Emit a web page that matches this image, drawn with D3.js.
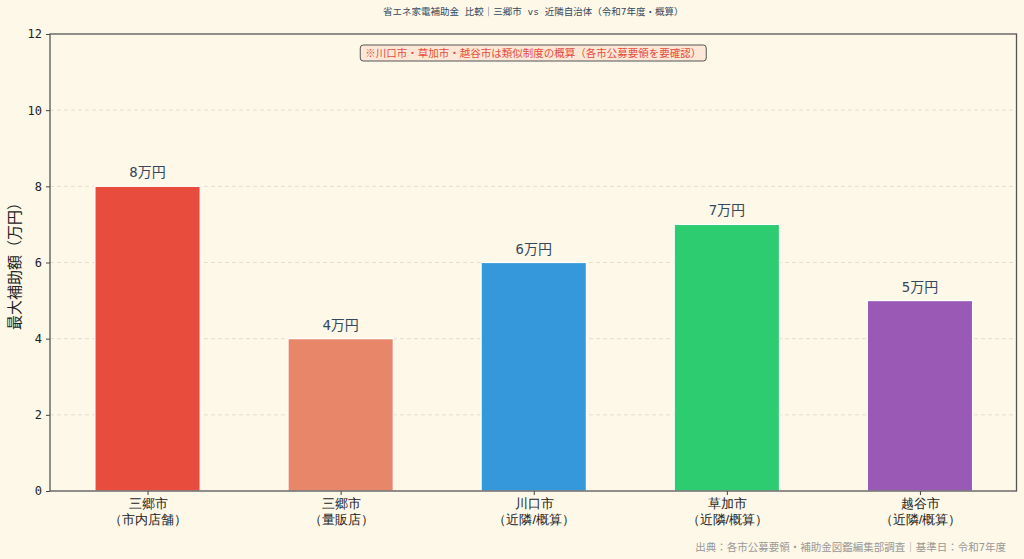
<!DOCTYPE html>
<html>
<head>
<meta charset="utf-8">
<script src="https://cdn.jsdelivr.net/npm/d3@7"></script>
<style>
  body { margin: 0; background: #fdf8e8; }
  svg { display: block; }
</style>
</head>
<body>
<script>
// chart data
const categories = ["三郷市\n（市内店舗）", "三郷市\n（量販店）", "川口市\n（近隣/概算）", "草加市\n（近隣/概算）", "越谷市\n（近隣/概算）"];
const values = [8, 4, 6, 7, 5];
const barColors = ["#e74c3c", "#e8866a", "#3498db", "#2ecc71", "#9b59b6"];
const yTicks = [0, 2, 4, 6, 8, 10, 12];
const title = "省エネ家電補助金 比較｜三郷市 vs 近隣自治体（令和7年度・概算）";
const note = "※川口市・草加市・越谷市は類似制度の概算（各市公募要領を要確認）";
const source = "出典：各市公募要領・補助金図鑑編集部調査｜基準日：令和7年度";

const width = 1024, height = 559;
const margin = {top: 34, right: 7.5, bottom: 68, left: 50};
const font = "'DejaVu Sans Mono', 'Noto Sans CJK JP', sans-serif";

const svg = d3.select("body").append("svg")
    .attr("width", width)
    .attr("height", height)
    .attr("font-family", font);

svg.append("rect").attr("width", width).attr("height", height).attr("fill", "#fdf8e8");

// x is the category index, y the subsidy in 万円
const x = d3.scaleLinear([-0.5, categories.length - 0.5], [margin.left + 1, width - margin.right]);
const y = d3.scaleLinear([0, 12], [height - margin.bottom, margin.top]);
const barWidth = 0.545;

// grid
svg.append("g")
    .selectAll("line")
    .data(yTicks.filter(d => d > 0 && d < 12))
    .join("line")
    .attr("x1", margin.left)
    .attr("x2", width - margin.right)
    .attr("y1", d => y(d))
    .attr("y2", d => y(d))
    .attr("stroke", "#d9d9cc")
    .attr("stroke-width", 0.8)
    .attr("stroke-dasharray", "4,3");

// bars
svg.append("g")
    .selectAll("rect")
    .data(values)
    .join("rect")
    .attr("x", (d, i) => x(i - barWidth / 2))
    .attr("width", (d, i) => x(i + barWidth / 2) - x(i - barWidth / 2))
    .attr("y", d => y(d))
    .attr("height", d => y(0) - y(d))
    .attr("fill", (d, i) => barColors[i])
    .attr("stroke", "#ffffff")
    .attr("stroke-width", 1.2);

// value labels
svg.append("g")
    .selectAll("text")
    .data(values)
    .join("text")
    .attr("x", (d, i) => x(i))
    .attr("y", d => y(d) - 9)
    .attr("text-anchor", "middle")
    .attr("font-size", 14)
    .attr("fill", "#34495e")
    .text(d => d + "万円");

// y axis
const yAxis = svg.append("g")
    .attr("transform", `translate(${margin.left},0)`)
    .call(d3.axisLeft(y).tickValues(yTicks).tickSize(4).tickPadding(4))
    .attr("font-family", font)
    .attr("font-size", 12);
yAxis.select(".domain").remove();
yAxis.selectAll(".tick line").attr("stroke", "#444");
yAxis.selectAll(".tick text").attr("fill", "#222");

// x axis
const xAxis = svg.append("g")
    .attr("transform", `translate(0,${height - margin.bottom})`)
    .call(d3.axisBottom(x).tickValues(d3.range(categories.length)).tickSize(4).tickFormat(""));
xAxis.select(".domain").remove();
xAxis.selectAll(".tick line").attr("stroke", "#444");
xAxis.selectAll(".tick").each(function(d) {
  const lines = categories[d].split("\n");
  d3.select(this).append("text")
      .attr("fill", "#222")
      .attr("font-size", 13)
      .attr("text-anchor", "middle")
      .selectAll("tspan")
      .data(lines)
      .join("tspan")
      .attr("x", 0)
      .attr("y", (l, j) => 17 + j * 16)
      .text(l => l);
});

// frame
svg.append("rect")
    .attr("x", margin.left)
    .attr("y", margin.top)
    .attr("width", width - margin.left - margin.right)
    .attr("height", height - margin.top - margin.bottom)
    .attr("fill", "none")
    .attr("stroke", "#555")
    .attr("stroke-width", 1.3);

// y label
svg.append("text")
    .attr("transform", `translate(20,${(margin.top + height - margin.bottom) / 2}) rotate(-90)`)
    .attr("text-anchor", "middle")
    .attr("font-size", 15)
    .attr("fill", "#222")
    .text("最大補助額（万円）");

// title
svg.append("text")
    .attr("x", (margin.left + width - margin.right) / 2)
    .attr("y", 15)
    .attr("text-anchor", "middle")
    .attr("font-size", 9.5)
    .attr("fill", "#34495e")
    .text(title);

// note box
const noteG = svg.append("g");
const noteText = noteG.append("text")
    .attr("x", (margin.left + width - margin.right) / 2)
    .attr("y", 57)
    .attr("text-anchor", "middle")
    .attr("font-size", 10.5)
    .attr("fill", "#e74c3c")
    .text(note);
const bb = noteText.node().getBBox();
noteG.insert("rect", "text")
    .attr("x", bb.x - 5)
    .attr("y", bb.y - 2)
    .attr("width", bb.width + 10)
    .attr("height", bb.height + 4)
    .attr("rx", 3)
    .attr("fill", "#fde8d8")
    .attr("stroke", "#555")
    .attr("stroke-width", 1);

// source
svg.append("text")
    .attr("x", width - 18)
    .attr("y", 551)
    .attr("text-anchor", "end")
    .attr("font-size", 10.5)
    .attr("fill", "#999")
    .text(source);
</script>
</body>
</html>
